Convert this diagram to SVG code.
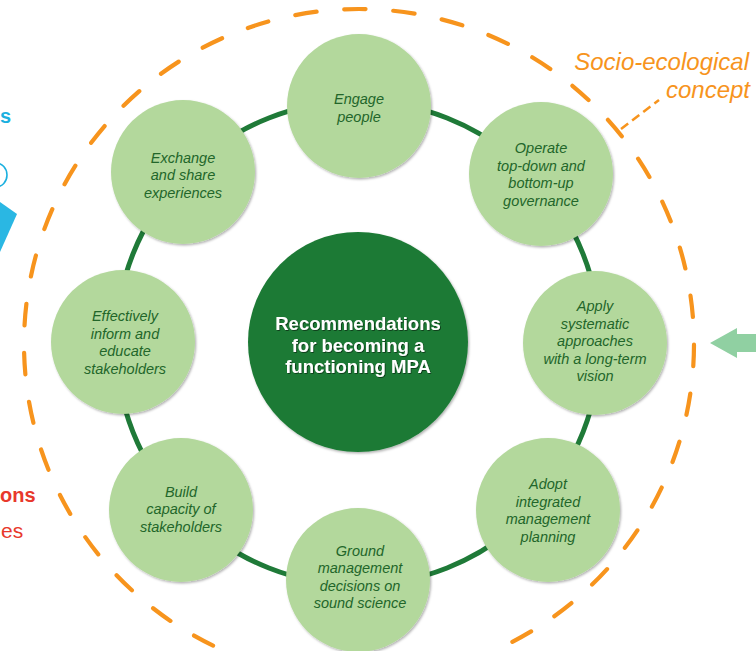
<svg xmlns="http://www.w3.org/2000/svg" width="756" height="651" viewBox="0 0 756 651">
<defs>
<filter id="sh" x="-20%" y="-20%" width="140%" height="140%">
<feDropShadow dx="1.2" dy="1.5" stdDeviation="1.3" flood-color="#000" flood-opacity="0.3"/>
</filter>
<filter id="tsh" x="-10%" y="-20%" width="120%" height="140%">
<feDropShadow dx="0.8" dy="0.8" stdDeviation="0.6" flood-color="#000" flood-opacity="0.6"/>
</filter>
</defs>
<style>
.node{fill:#b3d89c;filter:url(#sh)}
.nt{font-family:"Liberation Sans",Arial,sans-serif;font-style:italic;font-size:14.5px;fill:#22662a;text-anchor:middle}
.ct{font-family:"Liberation Sans",Arial,sans-serif;font-weight:bold;font-size:18.5px;fill:#ffffff;text-anchor:middle;filter:url(#tsh)}
.orange{fill:none;stroke:#f7941d}
.lbl{font-family:"Liberation Sans",Arial,sans-serif;font-style:italic;font-size:24px;fill:#f7941d;text-anchor:end}
.frag{font-family:"Liberation Sans",Arial,sans-serif}
</style>
<rect width="756" height="651" fill="#ffffff"/>

<g id="side-fragments">
<text class="frag" x="0" y="123" font-weight="bold" font-size="20" fill="#1cb0df">s</text>
<path d="M -4 163 A 11 12 0 0 1 -4 187" fill="none" stroke="#1cb0df" stroke-width="1.6"/>
<polygon points="0,202 17,214 0,252" fill="#2ab7e3"/>
<text class="frag" x="0" y="502" font-weight="bold" font-size="20" fill="#e8382c">ons</text>
<text class="frag" x="1" y="538" font-size="21" fill="#e8382c">es</text>
<polygon points="710,343 737,328 737,334 756,334 756,352 737,352 737,358" fill="#90d0a2"/>
</g>

<g id="socio-ecological-boundary">
<circle cx="359" cy="344" r="335" class="orange" stroke-width="4.2" stroke-linecap="round" stroke-dasharray="21.5 27.73" stroke-dashoffset="-3.3" transform="rotate(90 359 344)"/>
<line x1="621" y1="129" x2="659" y2="100" class="orange" stroke-width="2.5" stroke-dasharray="9 5"/>
<text class="lbl" x="749" y="70">Socio-ecological</text>
<text class="lbl" x="750" y="98">concept</text>
</g>

<g id="connectors">
<circle cx="358" cy="343" r="242" fill="none" stroke="#1f7a38" stroke-width="5"/>
</g>

<g id="center">
<circle cx="358" cy="342" r="110" fill="#1c7a35" filter="url(#sh)"/>
<text class="ct"><tspan x="358" y="330">Recommendations</tspan><tspan x="358" y="351.5">for becoming a</tspan><tspan x="358" y="373">functioning MPA</tspan></text>
</g>

<g id="engage">
<circle class="node" cx="359" cy="106" r="72"/>
<text class="nt"><tspan x="359" y="104">Engage</tspan><tspan x="359" y="121.5">people</tspan></text>
</g>

<g id="operate">
<circle class="node" cx="541" cy="174" r="72"/>
<text class="nt"><tspan x="541" y="153">Operate</tspan><tspan x="541" y="170.5">top-down and</tspan><tspan x="541" y="188">bottom-up</tspan><tspan x="541" y="205.5">governance</tspan></text>
</g>

<g id="apply">
<circle class="node" cx="595" cy="343" r="72"/>
<text class="nt"><tspan x="595" y="311">Apply</tspan><tspan x="595" y="328.5">systematic</tspan><tspan x="595" y="346">approaches</tspan><tspan x="595" y="363.5">with a long-term</tspan><tspan x="595" y="381">vision</tspan></text>
</g>

<g id="adopt">
<circle class="node" cx="548" cy="510" r="72"/>
<text class="nt"><tspan x="548" y="489">Adopt</tspan><tspan x="548" y="506.5">integrated</tspan><tspan x="548" y="524">management</tspan><tspan x="548" y="541.5">planning</tspan></text>
</g>

<g id="ground">
<circle class="node" cx="358" cy="580" r="72"/>
<text class="nt"><tspan x="360" y="555.5">Ground</tspan><tspan x="360" y="573">management</tspan><tspan x="360" y="590.5">decisions on</tspan><tspan x="360" y="608">sound science</tspan></text>
</g>

<g id="build">
<circle class="node" cx="181" cy="510" r="72"/>
<text class="nt"><tspan x="181" y="496.5">Build</tspan><tspan x="181" y="514">capacity of</tspan><tspan x="181" y="531.5">stakeholders</tspan></text>
</g>

<g id="inform">
<circle class="node" cx="123" cy="342" r="72"/>
<text class="nt"><tspan x="125" y="321">Effectively</tspan><tspan x="125" y="338.5">inform and</tspan><tspan x="125" y="356">educate</tspan><tspan x="125" y="373.5">stakeholders</tspan></text>
</g>

<g id="exchange">
<circle class="node" cx="183" cy="172" r="72"/>
<text class="nt"><tspan x="183" y="162.5">Exchange</tspan><tspan x="183" y="180">and share</tspan><tspan x="183" y="197.5">experiences</tspan></text>
</g>
</svg>
